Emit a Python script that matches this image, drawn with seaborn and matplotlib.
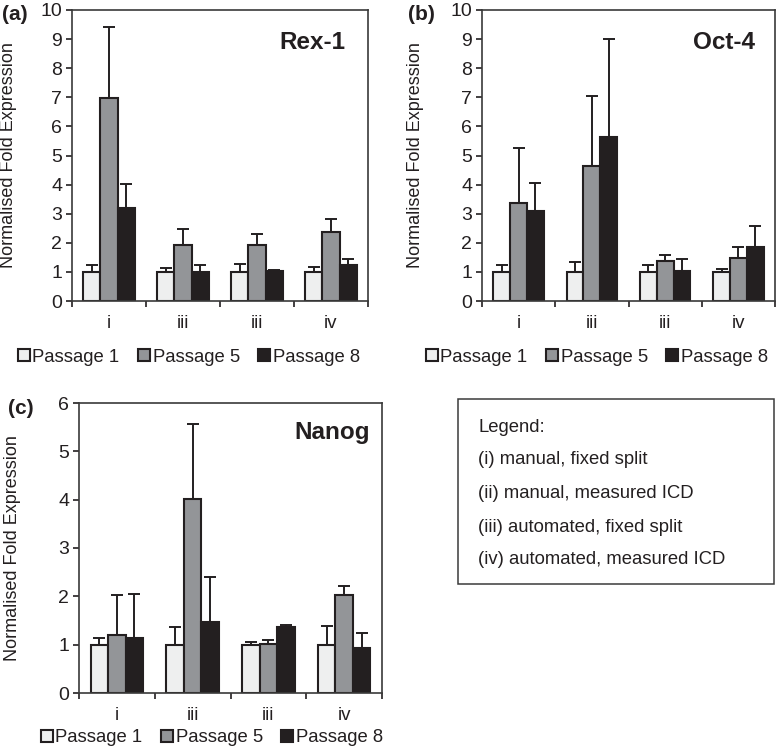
import matplotlib
matplotlib.use("Agg")
import matplotlib.pyplot as plt
from matplotlib.patches import Rectangle
import numpy as np
import pandas as pd
import seaborn as sns

# groups (keys kept unique so seaborn does not merge them) and the labels printed under them
group_keys = ["i", "ii", "iii", "iv"]
tick_labels = ["i", "iii", "iii", "iv"]
passages = ["Passage 1", "Passage 5", "Passage 8"]

# Rex-1
rex_p1 = [1.00, 1.00, 1.00, 1.00]
rex_p5 = [6.97, 1.92, 1.92, 2.37]
rex_p8 = [3.20, 1.00, 1.02, 1.22]
rex_p1_err = [0.22, 0.15, 0.28, 0.18]
rex_p5_err = [2.43, 0.56, 0.38, 0.45]
rex_p8_err = [0.83, 0.25, 0.03, 0.21]

# Oct-4
oct_p1 = [1.00, 1.00, 1.00, 1.00]
oct_p5 = [3.37, 4.65, 1.37, 1.47]
oct_p8 = [3.08, 5.65, 1.03, 1.85]
oct_p1_err = [0.22, 0.33, 0.25, 0.10]
oct_p5_err = [1.88, 2.40, 0.20, 0.38]
oct_p8_err = [0.97, 3.35, 0.40, 0.72]

# Nanog
nan_p1 = [1.00, 1.00, 1.00, 1.00]
nan_p5 = [1.20, 4.02, 1.02, 2.02]
nan_p8 = [1.13, 1.47, 1.37, 0.93]
nan_p1_err = [0.13, 0.37, 0.05, 0.39]
nan_p5_err = [0.82, 1.55, 0.08, 0.20]
nan_p8_err = [0.91, 0.92, 0.03, 0.32]

legend_lines = [
    "Legend:",
    "(i) manual, fixed split",
    "(ii) manual, measured ICD",
    "(iii) automated, fixed split",
    "(iv) automated, measured ICD",
]

palette = {"Passage 1": "#eeefef", "Passage 5": "#939598", "Passage 8": "#231f20"}
ink = "#231f20"

sns.set_theme(style="white")
plt.rcParams["font.family"] = ["Liberation Sans", "DejaVu Sans"]
plt.rcParams["text.color"] = ink
plt.rcParams["axes.labelcolor"] = ink
plt.rcParams["xtick.color"] = ink
plt.rcParams["ytick.color"] = ink


def make_frame(means, errs):
    rows = []
    for p, m_list, e_list in zip(passages, means, errs):
        for g, m, e in zip(group_keys, m_list, e_list):
            rows.append({"group": g, "passage": p, "value": m, "err": e})
    return pd.DataFrame(rows)


def draw_panel(fig, rect, df, ymax, gene, title_xy, label_x, legend_xy, letter, letter_xy):
    ax = fig.add_axes(rect)
    sns.barplot(data=df, x="group", y="value", hue="passage", order=group_keys,
                hue_order=passages, palette=palette, width=0.69, gap=0,
                edgecolor=ink, linewidth=1.5, errorbar=None, saturation=1, ax=ax)

    # one-sided error bars on top of each bar
    for cont, p in zip(ax.containers, passages):
        sub = df[df["passage"] == p].set_index("group").loc[group_keys]
        xs = [b.get_x() + b.get_width() / 2 for b in cont]
        ys = [b.get_height() for b in cont]
        errs = sub["err"].to_numpy()
        ax.errorbar(xs, ys, yerr=[np.zeros(len(errs)), errs], fmt="none",
                    ecolor=ink, elinewidth=1.4, capsize=4.2, capthick=1.4, zorder=3)

    ax.set_ylim(0, ymax)
    ax.set_xlim(-0.5, 3.5)
    ax.set_yticks(range(0, ymax + 1))
    ax.set_xticks(range(4))
    ax.set_xticklabels(tick_labels)
    ax.set_xticks([-0.5, 0.5, 1.5, 2.5, 3.5], minor=True)
    ax.tick_params(axis="x", which="major", length=0, labelsize=13.5, pad=10)
    ax.tick_params(axis="x", which="minor", length=4, width=1.2, direction="out", bottom=True)
    ax.tick_params(axis="y", length=4, width=1.2, direction="out", left=True, labelsize=14, pad=3)
    for s in ax.spines.values():
        s.set_color("#3a3a3a")
        s.set_linewidth(1.2)
    ax.set_xlabel("")
    ax.set_ylabel("Normalised Fold Expression", fontsize=13)
    ax.yaxis.set_label_coords(label_x, 0.5)

    ax.text(title_xy[0], title_xy[1], gene, transform=ax.transAxes, ha="right",
            va="center", fontsize=17.5, fontweight="bold")
    fig.text(letter_xy[0], letter_xy[1], letter, ha="center", va="center",
             fontsize=15, fontweight="bold")

    sns.move_legend(ax, "center", bbox_to_anchor=legend_xy, bbox_transform=fig.transFigure,
                    ncol=3, frameon=False, title=None, fontsize=13.3,
                    handlelength=0.65, handleheight=0.65, handletextpad=0.15,
                    columnspacing=1.0, borderpad=0, borderaxespad=0)
    return ax


W, H = 777, 755
fig = plt.figure(figsize=(W / 100, H / 100), dpi=100)

df_rex = make_frame([rex_p1, rex_p5, rex_p8], [rex_p1_err, rex_p5_err, rex_p8_err])
df_oct = make_frame([oct_p1, oct_p5, oct_p8], [oct_p1_err, oct_p5_err, oct_p8_err])
df_nan = make_frame([nan_p1, nan_p5, nan_p8], [nan_p1_err, nan_p5_err, nan_p8_err])

draw_panel(fig, [72 / W, 1 - 301 / H, 296 / W, 291 / H], df_rex, 10, "Rex-1",
           (0.922, 0.887), -0.185, (189 / W, 1 - 357 / H), "(a)", (15 / W, 1 - 14 / H))
draw_panel(fig, [482 / W, 1 - 301 / H, 293 / W, 291 / H], df_oct, 10, "Oct-4",
           (0.932, 0.887), -0.197, (597 / W, 1 - 357 / H), "(b)", (421 / W, 1 - 14 / H))
draw_panel(fig, [79 / W, 1 - 693 / H, 303 / W, 290 / H], df_nan, 6, "Nanog",
           (0.96, 0.897), -0.19, (212 / W, 1 - 738 / H), "(c)", (21 / W, 1 - 408 / H))

# text legend box for the group codes
fig.patches.append(Rectangle((458 / W, 1 - 584 / H), 316 / W, 185 / H,
                             transform=fig.transFigure, fill=False,
                             edgecolor="#3a3a3a", linewidth=1.1))
for line, y in zip(legend_lines, [427, 460, 493, 527, 560]):
    fig.text(478 / W, 1 - y / H, line, ha="left", va="center", fontsize=13.3)

fig.savefig("out.png", dpi=100, facecolor="white")
